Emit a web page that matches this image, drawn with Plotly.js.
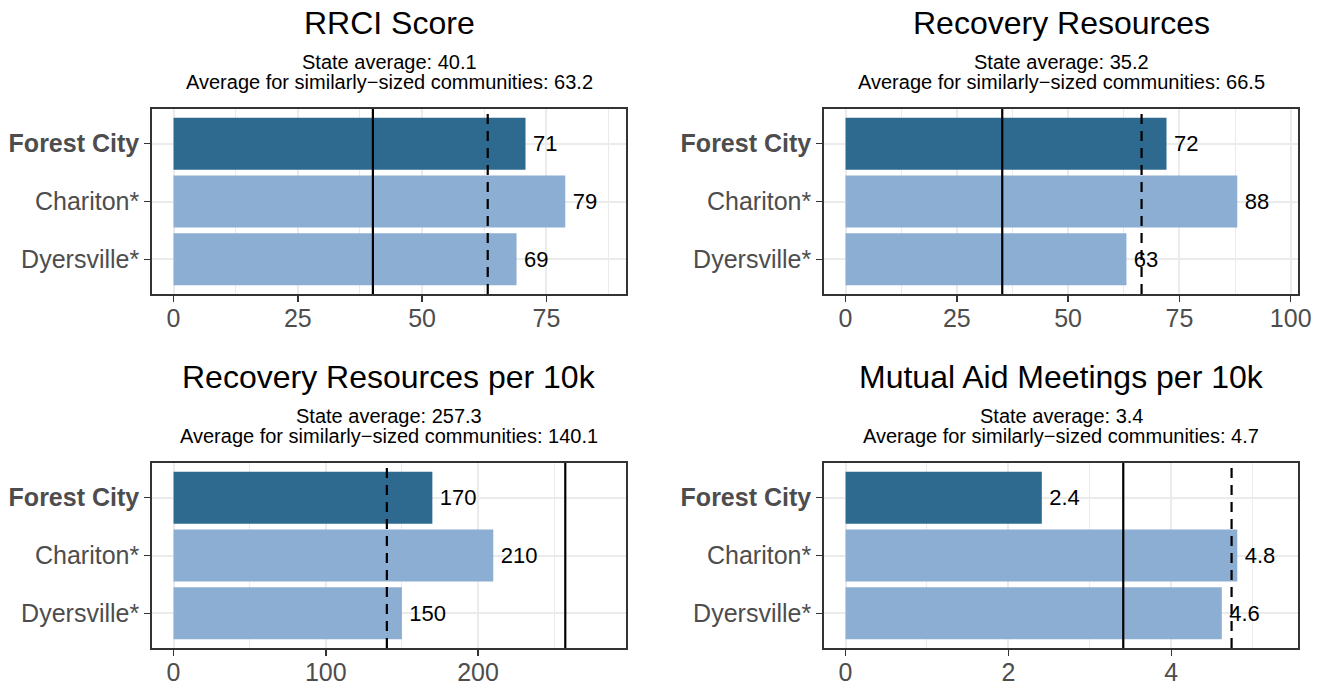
<!DOCTYPE html>
<html><head><meta charset="utf-8">
<script src="https://cdn.plot.ly/plotly-3.0.1.min.js"></script>
<style>html,body{margin:0;padding:0;background:#fff}</style>
</head><body>
<div id="chart" style="width:1322px;height:681px"></div>
<script>
// ---------- data ----------
const communities = ["Forest City", "Chariton*", "Dyersville*"];
const highlight = "Forest City";
const panelTitles = ["RRCI Score", "Recovery Resources", "Recovery Resources per 10k", "Mutual Aid Meetings per 10k"];
const rrciScore = [70.8, 78.8, 69.0];
const recoveryResources = [72.1, 88.0, 63.1];
const resourcesPer10k = [170, 210, 150];
const meetingsPer10k = [2.41, 4.81, 4.62];
const stateAverage = [40.1, 35.2, 257.3, 3.41];
const similarAverage = [63.2, 66.5, 140.1, 4.74];
const tickStep = [25, 25, 100, 2];
const labelDecimals = [0, 0, 0, 1];

const panelValues = [rrciScore, recoveryResources, resourcesPer10k, meetingsPer10k];

// ---------- styling / layout ----------
const W = 1322, H = 681;
const FONT = "Liberation Sans, Arial, Helvetica, sans-serif";
const darkBlue = "#2E6A8F", lightBlue = "#8DAED3";
const boxX = [[152, 626], [824, 1298]];
const boxY = [[109, 294], [463, 648]];
const titleY = [23, 377];
const sub1Y = [62, 416];
const sub2Y = [82, 436];

const px2x = p => p / W;
const px2y = p => (H - p) / H;

const data = [];
const layout = {
  width: W, height: H,
  margin: {l: 0, r: 0, t: 0, b: 0},
  paper_bgcolor: "#fff", plot_bgcolor: "#fff",
  showlegend: false,
  font: {family: FONT},
  bargap: 0.1,
  annotations: [],
  shapes: []
};

panelValues.forEach((vals, i) => {
  const k = i + 1;
  const col = i % 2, row = Math.floor(i / 2);
  const xa = "x" + (k === 1 ? "" : k), ya = "y" + (k === 1 ? "" : k);
  const L = 1.1 * Math.max(...vals, stateAverage[i], similarAverage[i]);

  data.push({
    type: "bar", orientation: "h",
    x: vals, y: communities,
    xaxis: xa, yaxis: ya,
    width: 0.9,
    marker: {color: communities.map(c => c === highlight ? darkBlue : lightBlue)},
    text: vals.map(v => "\u2009" + v.toFixed(labelDecimals[i])),
    textposition: "outside",
    textfont: {family: FONT, size: 22, color: "#000"},
    constraintext: "none",
    cliponaxis: false,
    hoverinfo: "skip"
  });

  layout["xaxis" + (k === 1 ? "" : k)] = {
    domain: [px2x(boxX[col][0]), px2x(boxX[col][1])],
    anchor: ya,
    range: [-0.05 * L, 1.05 * L],
    tick0: 0, dtick: tickStep[i],
    ticks: "outside", ticklen: 6, tickwidth: 1.6, tickcolor: "#333",
    ticklabelstandoff: -5,
    showline: true, mirror: true, linecolor: "#333", linewidth: 1.8,
    showgrid: true, gridcolor: "#EBEBEB", gridwidth: 2,
    minor: {dtick: tickStep[i] / 2, tick0: 0, showgrid: true, gridcolor: "#EBEBEB", gridwidth: 1, ticks: ""},
    zeroline: false,
    tickfont: {family: FONT, size: 25, color: "#4D4D4D"},
    fixedrange: true
  };
  layout["yaxis" + (k === 1 ? "" : k)] = {
    domain: [px2y(boxY[row][1]), px2y(boxY[row][0])],
    anchor: xa,
    type: "category",
    categoryarray: communities,
    range: [communities.length - 0.4, -0.6],
    tickvals: communities,
    ticktext: communities.map(c => c === highlight ? "<b>" + c + "</b>" : c),
    ticks: "outside", ticklen: 6, tickwidth: 1.6, tickcolor: "#333",
    showline: true, mirror: true, linecolor: "#333", linewidth: 1.8,
    showgrid: true, gridcolor: "#EBEBEB", gridwidth: 2,
    zeroline: false,
    tickfont: {family: FONT, size: 25, color: "#4D4D4D"},
    fixedrange: true
  };

  const cx = px2x((boxX[col][0] + boxX[col][1]) / 2);
  layout.annotations.push(
    {xref: "paper", yref: "paper", x: cx, y: px2y(titleY[row]), xanchor: "center", yanchor: "middle",
     text: panelTitles[i], showarrow: false, font: {family: FONT, size: 32, color: "#000"}},
    {xref: "paper", yref: "paper", x: cx, y: px2y(sub1Y[row]), xanchor: "center", yanchor: "middle",
     text: "State average: " + stateAverage[i].toFixed(1), showarrow: false, font: {family: FONT, size: 20, color: "#000"}},
    {xref: "paper", yref: "paper", x: cx, y: px2y(sub2Y[row]), xanchor: "center", yanchor: "middle",
     text: "Average for similarly\u2212sized communities: " + similarAverage[i].toFixed(1), showarrow: false, font: {family: FONT, size: 20, color: "#000"}}
  );

  layout.shapes.push(
    {type: "line", xref: xa, yref: ya + " domain", x0: stateAverage[i], x1: stateAverage[i], y0: 0, y1: 1,
     line: {color: "#000", width: 2.2}, layer: "above"},
    {type: "line", xref: xa, yref: ya + " domain", x0: similarAverage[i], x1: similarAverage[i], y0: 0, y1: 1,
     line: {color: "#000", width: 2.2, dash: "10px,7px"}, layer: "above"}
  );
});

Plotly.newPlot("chart", data, layout, {displayModeBar: false, staticPlot: true});
</script>
</body></html>
